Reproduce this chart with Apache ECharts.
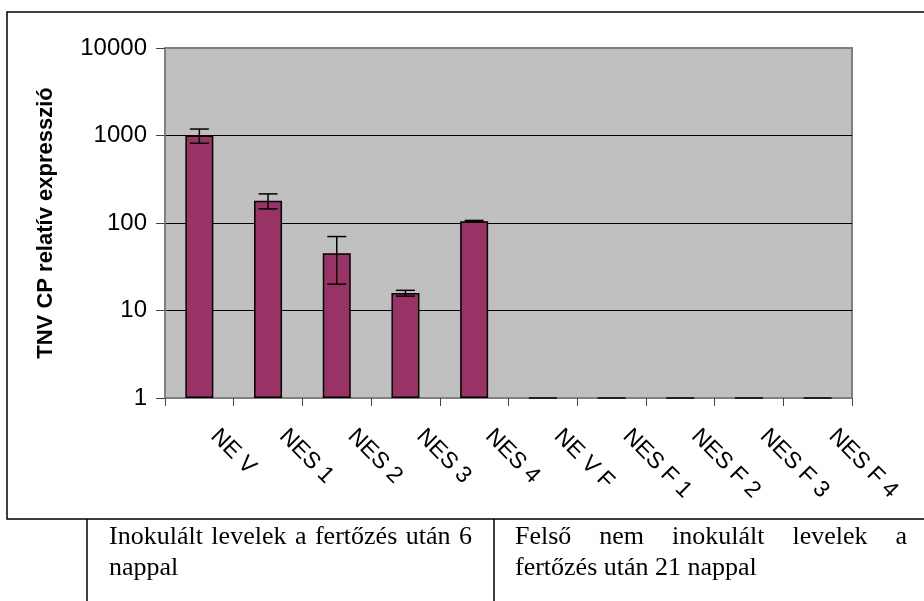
<!doctype html>
<html>
<head>
<meta charset="utf-8">
<title>TNV CP relatív expresszió</title>
<script src="https://cdn.jsdelivr.net/npm/echarts@6/dist/echarts.min.js"></script>
<style>
    html,body{
        margin: 0;
        padding: 0;
        background: #fff;
    }
    #chart{
        width: 924px;
        height: 601px;
    }
</style>
</head>
<body>
    <div id="chart"></div>
<script>
    // minták és mért értékek
    var categories = ['NE V','NES 1','NES 2','NES 3','NES 4','NE V F','NES F 1','NES F 2','NES F 3','NES F 4'];
    var expression = [1000, 180, 45, 15.8, 105, 1, 1, 1, 1, 1];
    var errors = [185, 35, 25, 1.2, 2, 0, 0, 0, 0, 0];
    var yTicks = [1, 10, 100, 1000, 10000];

    var leftCell = ['Inokulált levelek a fertőzés után 6', 'nappal'];
    var rightCell = ['Felső nem inokulált levelek a', 'fertőzés után 21 nappal'];

    var tableFont = '26px "Liberation Serif"';

    var errData = [];
    for (var i = 0; i < categories.length; i++) {
        if (errors[i] > 0) {
            errData.push([i, expression[i] - errors[i], expression[i] + errors[i]]);
        }
    }

    // sorkizárt szöveg szavanként
    function textLine(str, left, right, y, justify) {
        var ctx = document.createElement('canvas').getContext('2d');
        ctx.font = tableFont;
        var words = str.split(' ');
        var widths = words.map(function(w){ return ctx.measureText(w).width; });
        var total = widths.reduce(function(a,b){ return a + b; }, 0);
        var gap = ctx.measureText(' ').width;
        if (justify && words.length > 1) {
            gap = (right - left - total) / (words.length - 1);
        }
        var out = [], x = left;
        for (var k = 0; k < words.length; k++) {
            out.push({
                type: 'text',
                style: {text: words[k], x: x, y: y, font: tableFont, fill: '#000', verticalAlign: 'middle'}
            });
            x += widths[k] + gap;
        }
        return out;
    }

    var graphics = [
        {type:'rect', shape:{x:7, y:12, width:930, height:507}, style:{fill:'none', stroke:'#000', lineWidth:1.5}, z:-1},
        {type:'line', shape:{x1:87, y1:519, x2:87, y2:605}, style:{stroke:'#000', lineWidth:1.5}},
        {type:'line', shape:{x1:494, y1:519, x2:494, y2:605}, style:{stroke:'#000', lineWidth:1.5}}
    ];
    graphics = graphics
        .concat(textLine(leftCell[0], 109, 472, 537, true))
        .concat(textLine(leftCell[1], 109, 472, 568, false))
        .concat(textLine(rightCell[0], 515, 907, 537, true))
        .concat(textLine(rightCell[1], 515, 907, 568, false));

    var chart = echarts.init(document.getElementById('chart'), null, {renderer:'canvas'});

    var option = {
        animation: false,
        textStyle: {fontFamily: 'Arial, "Liberation Sans", sans-serif'},
        grid: {
            left: 165,
            right: 72,
            top: 48,
            bottom: 203,
            show: true,
            backgroundColor: '#c0c0c0',
            borderColor: '#808080',
            borderWidth: 2
        },
        xAxis: {
            type: 'category',
            data: categories,
            boundaryGap: true,
            axisLine: {lineStyle: {color: '#808080', width: 2}},
            axisTick: {show: true, length: 8, lineStyle: {color: '#444'}},
            axisLabel: {
                interval: 0,
                rotate: -45,
                margin: 20,
                padding: [0, 0, 0, 21],
                fontSize: 23,
                color: '#000'
            },
            splitLine: {show: false}
        },
        yAxis: {
            type: 'log',
            logBase: 10,
            min: 1,
            max: 10000,
            name: 'TNV CP relatív expresszió',
            nameLocation: 'middle',
            nameRotate: 90,
            nameGap: 108,
            nameTextStyle: {fontSize: 22, fontWeight: 'bold', color: '#000'},
            axisLine: {show: true, lineStyle: {color: '#808080', width: 2}},
            axisTick: {show: true, length: 9, lineStyle: {color: '#444'}},
            axisLabel: {
                fontSize: 24,
                color: '#000',
                margin: 18,
                formatter: function(v){ return String(Math.round(v)); }
            },
            splitLine: {show: true, lineStyle: {color: ['#808080','#000','#000','#000','#808080'], width: 1.2}}
        },
        series: [{
            name: 'expresszió',
            type: 'bar',
            data: expression,
            barWidth: 28,
            itemStyle: {color: '#993366', borderColor: '#000', borderWidth: 1.5}
        }, {
            name: 'hiba',
            type: 'custom',
            data: errData,
            z: 10,
            renderItem: function(params, api) {
                var x = api.value(0);
                var lo = api.coord([x, api.value(1)]);
                var hi = api.coord([x, api.value(2)]);
                var hw = 9.5;
                var st = {stroke: '#000', lineWidth: 1.5};
                return {
                    type: 'group',
                    children: [
                        {type:'line', shape:{x1:hi[0], y1:hi[1], x2:lo[0], y2:lo[1]}, style:st},
                        {type:'line', shape:{x1:hi[0]-hw, y1:hi[1], x2:hi[0]+hw, y2:hi[1]}, style:st},
                        {type:'line', shape:{x1:lo[0]-hw, y1:lo[1], x2:lo[0]+hw, y2:lo[1]}, style:st}
                    ]
                };
            }
        }],
        graphic: graphics
    };

    chart.setOption(option);
</script>
</body>
</html>
